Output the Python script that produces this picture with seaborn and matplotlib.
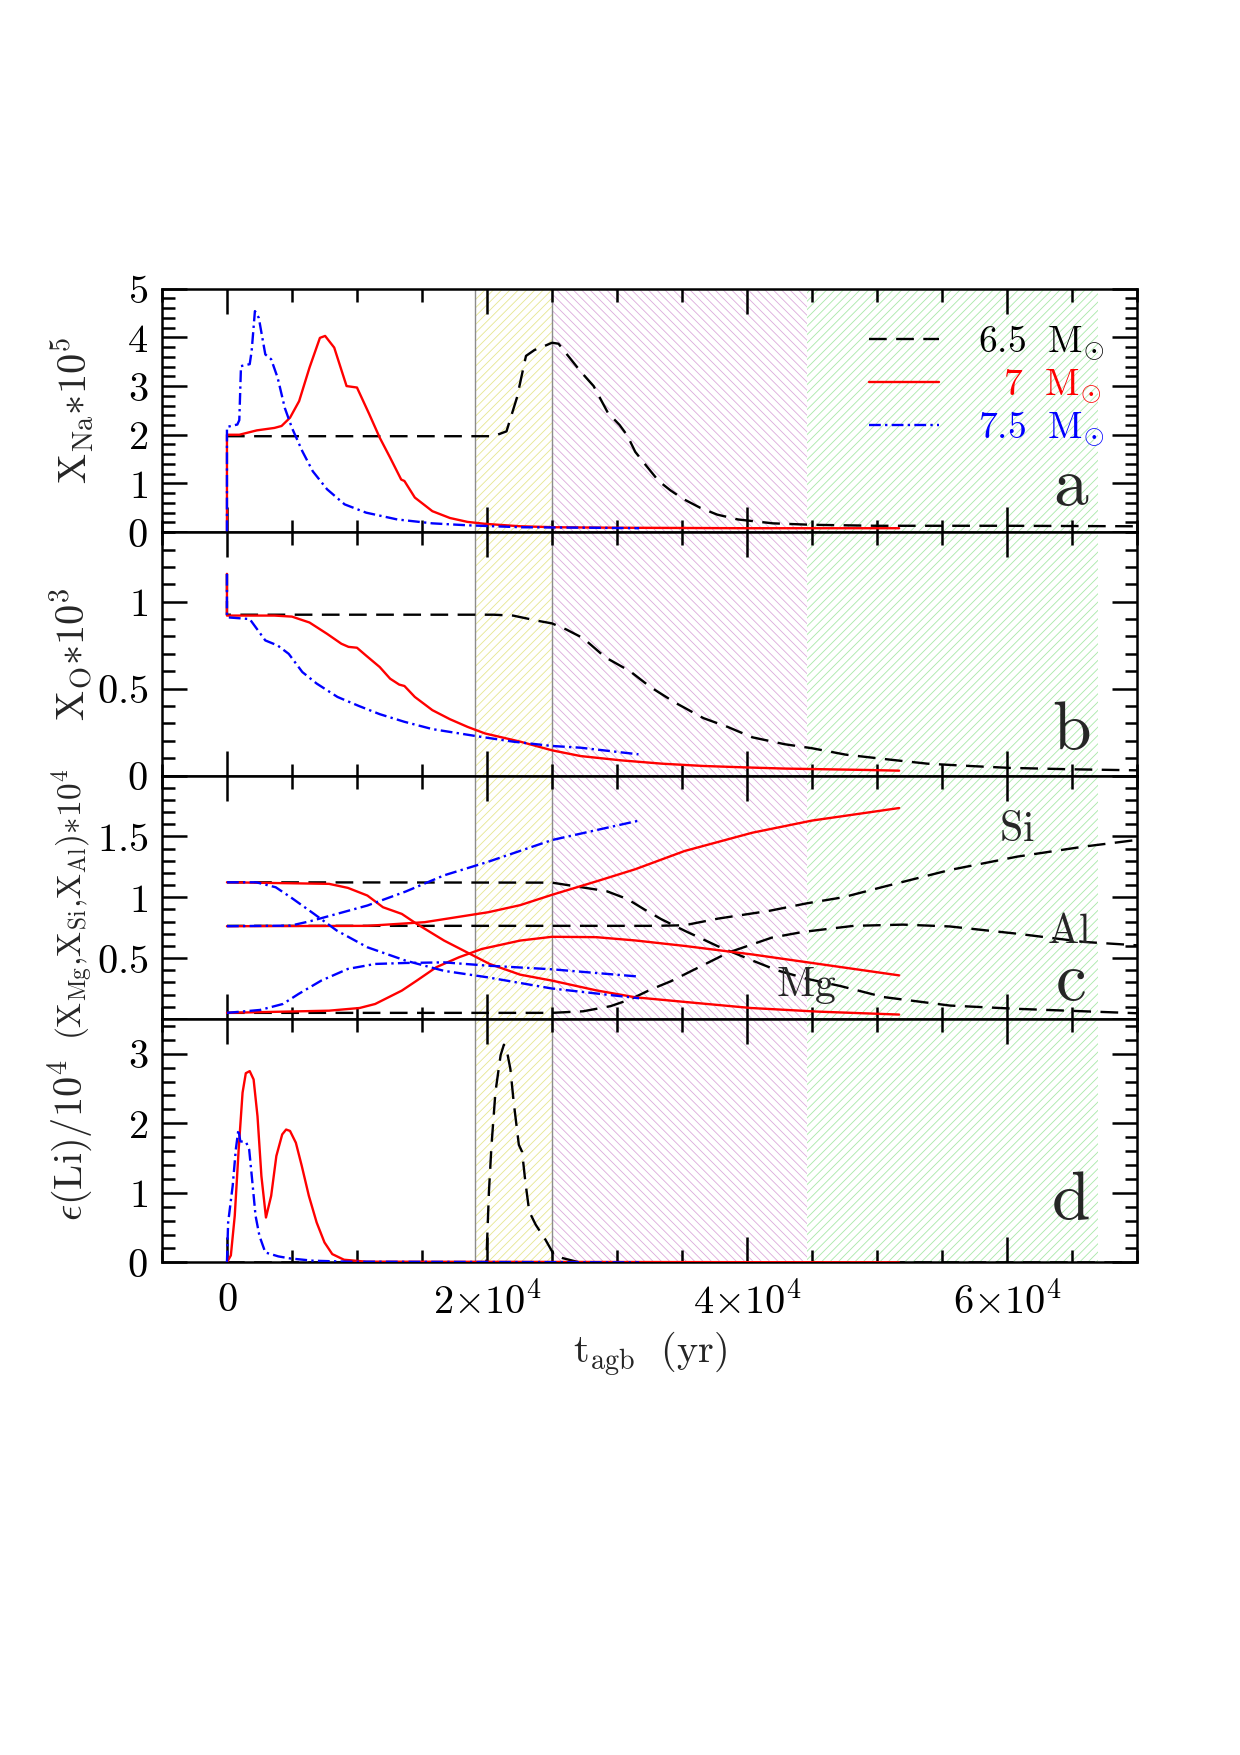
import numpy as np
import pandas as pd
import matplotlib
matplotlib.use('Agg')
import matplotlib.pyplot as plt
import seaborn as sns
from matplotlib.ticker import MultipleLocator

# ---- data (t in yr) ----
# panel a: X_Na * 1e5
na65_t = [0, 20500, 21500, 22300, 23000, 23650, 24400, 25000, 25500, 26300, 27200, 28200, 29300,
          30200, 30800, 31400, 32200, 33200, 34100, 35100, 36400, 37700, 39300, 42000, 45000,
          50000, 60000, 70000]
na65 = [1.97, 1.97, 2.07, 2.76, 3.62, 3.74, 3.82, 3.89, 3.87, 3.6, 3.3, 3.0, 2.45,
        2.2, 1.98, 1.65, 1.38, 1.05, 0.86, 0.68, 0.5, 0.36, 0.26, 0.18, 0.15,
        0.13, 0.13, 0.12]
na7_t = [0, 0, 950, 2300, 3650, 4200, 4850, 5550, 6350, 7150, 7550, 8250, 9200, 10000, 10950,
         11750, 12550, 13400, 13650, 14450, 15800, 17150, 18500, 19850, 22550, 25250, 30000,
         40000, 51700]
na7 = [0, 2.0, 2.0, 2.09, 2.14, 2.18, 2.35, 2.69, 3.38, 3.99, 4.03, 3.79, 3.0, 2.97, 2.42,
       1.94, 1.53, 1.08, 1.05, 0.71, 0.43, 0.29, 0.21, 0.17, 0.12, 0.10, 0.09,
       0.08, 0.08]
na75_t = [0, 0, 800, 950, 1080, 1750, 1900, 2150, 2450, 2950, 3400, 3900, 4450, 5000, 5800,
          6600, 7700, 9050, 10700, 13100, 15800, 18500, 22600, 28000, 31700]
na75 = [0, 2.16, 2.21, 2.3, 3.41, 3.45, 3.72, 4.54, 4.40, 3.65, 3.55, 3.17, 2.55, 2.14, 1.66,
        1.25, 0.88, 0.57, 0.40, 0.26, 0.18, 0.14, 0.10, 0.09, 0.08]

# panel b: X_O * 1e3
o65_t = [0, 0, 20500, 22000, 23900, 25000, 26100, 27400, 29100, 31000, 32550, 34450, 36650,
         38500, 40400, 42900, 45000, 47600, 50800, 53900, 57100, 60200, 64900, 70000]
o65 = [1.16, 0.925, 0.925, 0.92, 0.89, 0.875, 0.84, 0.79, 0.68, 0.60, 0.51, 0.42, 0.33,
       0.28, 0.22, 0.18, 0.157, 0.12, 0.093, 0.068, 0.055, 0.044, 0.036, 0.03]
o7_t = [0, 0, 950, 3650, 5000, 6350, 7700, 8800, 9350, 10000, 10700, 11750, 12550, 13250,
        13650, 14450, 15800, 17150, 18500, 19850, 21000, 22550, 25000, 27200, 30350, 33500,
        36650, 39800, 42900, 46100, 49200, 51700]
o7 = [1.16, 0.92, 0.92, 0.92, 0.914, 0.88, 0.815, 0.758, 0.74, 0.735, 0.69, 0.624, 0.557, 0.523,
      0.515, 0.452, 0.376, 0.324, 0.28, 0.242, 0.222, 0.195, 0.145, 0.112, 0.087, 0.068,
      0.055, 0.047, 0.040, 0.036, 0.032, 0.028]
o75_t = [0, 0, 1750, 2950, 3900, 4750, 5800, 6900, 8500, 10150, 11750, 13650, 15800, 19150,
         22000, 25000, 27200, 31650]
o75 = [1.16, 0.91, 0.90, 0.777, 0.748, 0.70, 0.595, 0.529, 0.452, 0.40, 0.353, 0.309, 0.267,
       0.227, 0.195, 0.17, 0.16, 0.122]

# panel c: X_Mg, X_Si, X_Al * 1e4
mg65_t = [0, 25000, 27400, 29200, 30800, 32100, 33400, 35200, 37700, 40300, 42300, 44600,
          47200, 50500, 55600, 60800, 65900, 70000]
mg65 = [1.123, 1.12, 1.08, 1.05, 0.985, 0.90, 0.82, 0.725, 0.60, 0.485, 0.40, 0.33,
        0.27, 0.18, 0.11, 0.083, 0.063, 0.047]
si65_t = [0, 33000, 35200, 37800, 41700, 44600, 47400, 50500, 55600, 60800, 65900, 70000]
si65 = [0.765, 0.765, 0.77, 0.825, 0.888, 0.95, 1.0, 1.086, 1.224, 1.334, 1.416, 1.471]
al65_t = [0, 25000, 27400, 29500, 31000, 32600, 34150, 35700, 37000, 38550, 40400, 41900,
          44300, 48200, 52000, 55600, 60800, 65900, 70000]
al65 = [0.05, 0.05, 0.063, 0.105, 0.16, 0.242, 0.31, 0.393, 0.462, 0.545, 0.613, 0.668,
        0.715, 0.765, 0.775, 0.76, 0.70, 0.633, 0.605]

mg7_t = [0, 7850, 9300, 10800, 12000, 13450, 14600, 16700, 18450, 20200, 22550, 25000, 28400,
         31400, 35200, 40300, 45500, 51700]
mg7 = [1.123, 1.11, 1.077, 1.014, 0.918, 0.863, 0.781, 0.644, 0.548, 0.452, 0.364, 0.315, 0.235,
       0.178, 0.14, 0.09, 0.06, 0.036]
si7_t = [0, 10800, 15200, 20100, 22550, 25000, 28400, 31400, 35200, 40400, 45000, 51700]
si7 = [0.762, 0.765, 0.795, 0.877, 0.935, 1.02, 1.13, 1.23, 1.38, 1.53, 1.63, 1.733]
al7_t = [0, 7850, 10200, 11400, 13450, 14600, 16100, 17850, 19600, 22550, 25000, 28400, 31400,
         35200, 40400, 45000, 51700]
al7 = [0.05, 0.068, 0.09, 0.123, 0.233, 0.315, 0.425, 0.507, 0.575, 0.644, 0.675, 0.672, 0.645,
       0.6, 0.53, 0.46, 0.358]

mg75_t = [0, 2250, 3750, 4900, 6700, 8450, 10800, 13750, 16700, 20050, 25000, 31700]
mg75 = [1.123, 1.123, 1.082, 1.0, 0.863, 0.726, 0.589, 0.479, 0.395, 0.342, 0.25, 0.17]
si75_t = [0, 4900, 6400, 8450, 10800, 13750, 16700, 20050, 25000, 31700]
si75 = [0.762, 0.767, 0.803, 0.863, 0.932, 1.047, 1.18, 1.29, 1.47, 1.63]
al75_t = [0, 2550, 4300, 5500, 7250, 9300, 11400, 13750, 16700, 20050, 25000, 31700]
al75 = [0.05, 0.074, 0.123, 0.205, 0.315, 0.411, 0.452, 0.46, 0.465, 0.438, 0.408, 0.348]

# panel d: eps(Li) / 1e4
li65_t = [0, 19950, 20150, 20350, 20650, 21050, 21300, 21550, 21800, 22050, 22450, 22700, 22950,
          23250, 23750, 24500, 25150, 25800, 27100, 70000]
li65 = [0, 0, 1.02, 1.69, 2.45, 2.98, 3.13, 3.02, 2.78, 2.31, 1.69, 1.59, 1.16,
        0.73, 0.54, 0.325, 0.11, 0.062, 0.0, 0]
li7_t = [0, 300, 600, 900, 1200, 1450, 1750, 2050, 2350, 2650, 3000, 3400, 3800, 4250, 4550,
         4850, 5300, 5750, 6300, 6900, 7500, 8100, 9000, 10700, 51700]
li7 = [0, 0.1, 0.67, 1.62, 2.44, 2.72, 2.75, 2.63, 2.10, 1.24, 0.645, 0.956, 1.53, 1.84, 1.91,
       1.89, 1.72, 1.39, 0.956, 0.573, 0.287, 0.119, 0.038, 0.01, 0]
li75_t = [0, 90, 440, 680, 880, 1030, 1470, 1710, 1910, 2200, 2500, 2950, 3950, 4850, 6600,
          9250, 31700]
li75 = [0, 0.57, 1.10, 1.62, 1.91, 1.74, 1.73, 1.62, 1.24, 0.67, 0.38, 0.143, 0.086, 0.057,
        0.024, 0.01, 0]

# shaded phases (yr) and their hatch colours
phase_edges = [19100, 25000, 44600, 67000]
phase_colors = ['#e6e690', '#dcaadc', '#a8e8a8']
phase_hatch = ['////', '\\\\\\\\', '////']

mass_labels = [r'$\mathrm{6.5\ \ M_{\odot}}$', r'$\hspace{0.78}\mathrm{7\ \ M_{\odot}}$',
               r'$\mathrm{7.5\ \ M_{\odot}}$']
mass_colors = ['black', '#ff0000', '#0000ff']
mass_styles = [(0, (7.5, 4)), '-', (0, (5, 1.8, 1, 1.8))]

# ---- style ----
sns.set_theme(style='ticks')
plt.rcParams.update({
    'font.family': ['DejaVu Serif'],
    'mathtext.fontset': 'cm',
    'axes.linewidth': 1.8,
    'axes.edgecolor': 'black',
    'hatch.linewidth': 0.6,
    'xtick.color': 'black',
    'ytick.color': 'black',
})

fig, axes = plt.subplots(4, 1, figsize=(12.4, 17.55), dpi=100, sharex=True)
fig.subplots_adjust(left=0.1306, right=0.917, top=0.8355, bottom=0.2807, hspace=0)


def shade(ax):
    for i in range(3):
        ax.axvspan(phase_edges[i], phase_edges[i + 1], facecolor='none',
                   edgecolor=phase_colors[i], hatch=phase_hatch[i], lw=0, zorder=0)
    for xv in phase_edges[:2]:
        ax.axvline(xv, color='#8c8c8c', lw=1.0, zorder=0.5)


def curve(ax, t, y, k):
    sns.lineplot(x=t, y=y, ax=ax, estimator=None, sort=False, color=mass_colors[k],
                 linestyle=mass_styles[k], lw=1.7, zorder=3)
    return ax.lines[-1]


panels = [
    [(na65_t, na65), (na7_t, na7), (na75_t, na75)],
    [(o65_t, o65), (o7_t, o7), (o75_t, o75)],
    [(mg65_t, mg65), (si65_t, si65), (al65_t, al65),
     (mg7_t, mg7), (si7_t, si7), (al7_t, al7),
     (mg75_t, mg75), (si75_t, si75), (al75_t, al75)],
    [(li65_t, li65), (li7_t, li7), (li75_t, li75)],
]
ylims = [(0, 5), (0, 1.4), (0, 2.0), (0, 3.5)]
yticks = [[0, 1, 2, 3, 4, 5], [0, 0.5, 1], [0, 0.5, 1, 1.5, 2], [0, 1, 2, 3]]
yticklabels = [['$0$', '$1$', '$2$', '$3$', '$4$', '$5$'], ['$0$', '$0.5$', '$1$'],
               ['', '$0.5$', '$1$', '$1.5$', ''], ['$0$', '$1$', '$2$', '$3$']]
yminor = [0.2, 0.1, 0.1, 0.2]
ylabels = [r'$\mathrm{X_{Na}{*}10^5}$', r'$\mathrm{X_{O}{*}10^3}$',
           r'$\mathrm{(X_{Mg}{,}X_{Si}{,}X_{Al}){*}10^4}$', r'$\epsilon\mathrm{(Li)/10^4}$']
ylabel_sizes = [29, 29, 24, 29]
ylabel_y = [0.5, 0.5, 0.47, 0.5]
letters = ['a', 'b', 'c', 'd']
letter_y = [0.11, 0.11, 0.078, 0.18]

handles = []
for i, ax in enumerate(axes):
    shade(ax)
    series = panels[i]
    if i == 2:
        for j, (t, y) in enumerate(series):
            curve(ax, t, y, j // 3)
    else:
        for j, (t, y) in enumerate(series):
            ln = curve(ax, t, y, j)
            if i == 0:
                handles.append(ln)
    ax.set_xlim(-5000, 70000)
    ax.set_ylim(*ylims[i])
    ax.set_yticks(yticks[i], yticklabels[i])
    ax.yaxis.set_minor_locator(MultipleLocator(yminor[i]))
    ax.xaxis.set_major_locator(MultipleLocator(20000))
    ax.xaxis.set_minor_locator(MultipleLocator(5000))
    ax.tick_params(which='both', direction='in', top=True, right=True, width=1.8,
                   labelsize=29, colors='black')
    ax.tick_params(which='major', length=18)
    ax.tick_params(which='minor', length=9)
    ax.tick_params(axis='y', pad=10)
    ax.tick_params(axis='x', pad=14)
    ax.set_ylabel(ylabels[i], fontsize=ylabel_sizes[i])
    ax.yaxis.set_label_coords(-0.068, ylabel_y[i])
    ax.set_xlabel('')
    ax.text(0.932, letter_y[i], r'$\mathrm{%s}$' % letters[i], transform=ax.transAxes,
            ha='center', va='baseline', fontsize=50)

axes[3].set_xticks([0, 20000, 40000, 60000],
                   ['$0$', r'$2{\times}10^4$', r'$4{\times}10^4$', r'$6{\times}10^4$'])
axes[3].set_xlabel(r'$\mathrm{t_{agb}\ \ (yr)}$', fontsize=29, labelpad=5)

# element names in panel c
axes[2].text(60760, 1.56, r'$\mathrm{Si}$', ha='center', va='center', fontsize=30)
axes[2].text(64730, 0.72, r'$\mathrm{Al}$', ha='center', va='center', fontsize=30)
axes[2].text(44580, 0.275, r'$\mathrm{Mg}$', ha='center', va='center', fontsize=30)

leg = axes[0].legend(handles, mass_labels, loc='center right', bbox_to_anchor=(0.967, 0.6),
                     frameon=False, fontsize=27, handlelength=1.87, handletextpad=1.05,
                     labelspacing=0.12, borderpad=0, borderaxespad=0)
for txt, c in zip(leg.get_texts(), mass_colors):
    txt.set_color(c)

fig.savefig('out.png', dpi=100, facecolor='white')
